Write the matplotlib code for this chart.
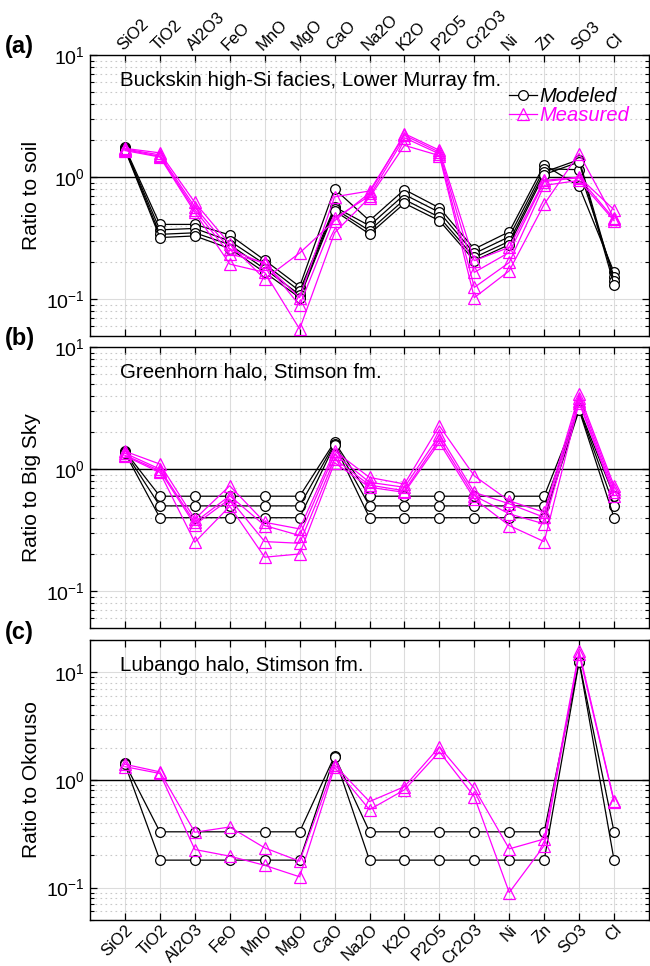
import matplotlib
matplotlib.use("Agg")
import matplotlib.pyplot as plt
import numpy as np
from matplotlib.ticker import LogLocator, NullFormatter

plt.rcParams['font.family'] = ['Liberation Sans', 'DejaVu Sans']
plt.rcParams['mathtext.fontset'] = 'custom'
plt.rcParams['mathtext.rm'] = 'Liberation Sans'
plt.rcParams['axes.unicode_minus'] = False

oxides = ['SiO2', 'TiO2', 'Al2O3', 'FeO', 'MnO', 'MgO', 'CaO', 'Na2O',
          'K2O', 'P2O5', 'Cr2O3', 'Ni', 'Zn', 'SO3', 'Cl']

# (a) Buckskin vs soil
mod_a = [
    [1.75, 0.41, 0.41, 0.336, 0.209, 0.127, 0.80, 0.44, 0.79, 0.56, 0.258, 0.357, 1.26, 0.84, 0.166],
    [1.72, 0.37, 0.38, 0.30, 0.194, 0.117, 0.57, 0.40, 0.72, 0.515, 0.237, 0.325, 1.17, 1.15, 0.153],
    [1.70, 0.34, 0.35, 0.28, 0.177, 0.109, 0.55, 0.365, 0.655, 0.47, 0.22, 0.298, 1.10, 1.39, 0.142],
    [1.68, 0.32, 0.33, 0.26, 0.166, 0.103, 0.53, 0.342, 0.61, 0.44, 0.207, 0.28, 1.05, 1.33, 0.131],
]
meas_a = [
    [1.72, 1.58, 0.62, 0.283, 0.146, 0.239, 0.44, 0.74, 2.27, 1.66, 0.207, 0.266, 0.94, 1.00, 0.54],
    [1.70, 1.52, 0.57, 0.258, 0.194, 0.103, 0.69, 0.77, 2.20, 1.60, 0.166, 0.242, 0.92, 0.99, 0.455],
    [1.68, 1.48, 0.54, 0.234, 0.20, 0.089, 0.46, 0.70, 2.10, 1.55, 0.125, 0.20, 0.855, 0.94, 0.44],
    [1.65, 1.46, 0.515, 0.194, 0.166, 0.057, 0.35, 0.68, 1.82, 1.50, 0.103, 0.171, 0.60, 1.56, 0.46],
]

# (b) Greenhorn vs Big Sky
mod_b = [
    [1.40, 0.60, 0.60, 0.60, 0.60, 0.60, 1.67, 0.60, 0.60, 0.60, 0.60, 0.60, 0.60, 3.15, 0.60],
    [1.38, 0.50, 0.50, 0.50, 0.50, 0.50, 1.62, 0.50, 0.50, 0.50, 0.50, 0.50, 0.50, 3.10, 0.50],
    [1.36, 0.40, 0.40, 0.40, 0.40, 0.40, 1.58, 0.40, 0.40, 0.40, 0.40, 0.40, 0.40, 3.05, 0.40],
]
meas_b = [
    [1.40, 1.10, 0.39, 0.73, 0.367, 0.324, 1.41, 0.855, 0.755, 2.26, 0.88, 0.55, 0.443, 4.10, 0.73],
    [1.35, 1.00, 0.367, 0.605, 0.345, 0.286, 1.33, 0.78, 0.71, 1.90, 0.645, 0.52, 0.403, 3.85, 0.687],
    [1.30, 0.97, 0.35, 0.57, 0.255, 0.247, 1.21, 0.74, 0.665, 1.76, 0.605, 0.43, 0.356, 3.60, 0.645],
    [1.28, 0.94, 0.252, 0.496, 0.19, 0.202, 1.13, 0.71, 0.645, 1.65, 0.57, 0.345, 0.255, 3.50, 0.605],
]

# (c) Lubango vs Okoruso
mod_c = [
    [1.43, 0.33, 0.33, 0.33, 0.33, 0.33, 1.67, 0.33, 0.33, 0.33, 0.33, 0.33, 0.33, 12.6, 0.33],
    [1.40, 0.18, 0.18, 0.18, 0.18, 0.18, 1.65, 0.18, 0.18, 0.18, 0.18, 0.18, 0.18, 12.6, 0.18],
]
meas_c = [
    [1.40, 1.19, 0.327, 0.366, 0.234, 0.176, 1.38, 0.63, 0.868, 2.03, 0.838, 0.229, 0.283, 15.8, 0.64],
    [1.33, 1.15, 0.226, 0.196, 0.161, 0.126, 1.31, 0.53, 0.81, 1.83, 0.70, 0.09, 0.246, 14.8, 0.63],
]

panels = [
    ('(a)', 'Ratio to soil', 'Buckskin high-Si facies, Lower Murray fm.', mod_a, meas_a, (0.05, 10)),
    ('(b)', 'Ratio to Big Sky', 'Greenhorn halo, Stimson fm.', mod_b, meas_b, (0.05, 10)),
    ('(c)', 'Ratio to Okoruso', 'Lubango halo, Stimson fm.', mod_c, meas_c, (0.05, 20)),
]

W, H = 650, 966
fig = plt.figure(figsize=(W / 100, H / 100), dpi=100)
# axes boxes in pixels: top, bottom
boxes = [(55, 336), (347, 628), (640, 920)]
left, right = 90, 649
magenta = '#ff00ff'
x = np.arange(len(oxides))

for i, (tag, ylab, title, mod, meas, ylim) in enumerate(panels):
    top, bot = boxes[i]
    ax = fig.add_axes([left / W, 1 - bot / H, (right - left) / W, (bot - top) / H])
    ax.set_yscale('log')
    ax.set_xlim(-1, 15)
    ax.set_ylim(*ylim)

    ax.set_axisbelow(True)
    ax.grid(True, which='major', axis='both', color='#dcdcdc', lw=0.8, ls='-')
    ax.grid(True, which='minor', axis='y', color='#c8c8c8', lw=0.8, ls=(0, (1.5, 3)))
    ax.axhline(1.0, color='black', lw=1.0, zorder=1.5)

    for row in mod:
        h1, = ax.plot(x, row, '-o', color='black', lw=0.9, ms=7,
                      mfc='white', mec='black', mew=0.9, zorder=3)
    for row in meas:
        h2, = ax.plot(x, row, '-^', color=magenta, lw=0.9, ms=8,
                      mfc='none', mec=magenta, mew=0.9, zorder=4)

    ax.set_xticks(x)
    ax.yaxis.set_major_locator(LogLocator(base=10, numticks=10))
    ax.yaxis.set_minor_locator(LogLocator(base=10, subs=np.arange(2, 10), numticks=20))
    ax.yaxis.set_minor_formatter(NullFormatter())
    ax.tick_params(which='both', direction='in', top=True, right=True,
                   bottom=True, left=True, labelsize=14)
    ax.tick_params(which='major', length=5, width=0.9)
    ax.tick_params(which='minor', length=3, width=0.8)
    ax.tick_params(axis='x', labelsize=12, pad=1.5)

    if i == 0:
        ax.tick_params(axis='x', labeltop=True, labelbottom=False)
        ax.set_xticklabels(oxides, rotation=45, ha='left', rotation_mode='anchor')
    elif i == 2:
        ax.set_xticklabels(oxides, rotation=45, ha='right', rotation_mode='anchor')
    else:
        ax.set_xticklabels([])

    for s in ax.spines.values():
        s.set_linewidth(1.0)

    ax.set_ylabel(ylab, fontsize=15, labelpad=4)
    ax.text(0.054, 0.91, title, transform=ax.transAxes, fontsize=14.8, va='center', ha='left')
    fig.text(5 / W, 1 - (top - 8) / H, tag, fontsize=17, fontweight='bold', va='center', ha='left')

    if i == 0:
        leg = ax.legend([h1, h2], ['Modeled', 'Measured'], loc='upper left',
                        bbox_to_anchor=(0.735, 0.915), frameon=False, fontsize=14.5,
                        handlelength=1.4, handletextpad=0.1, labelspacing=0.0,
                        borderaxespad=0)
        for t, c in zip(leg.get_texts(), ['black', magenta]):
            t.set_color(c)
            t.set_fontstyle('italic')

fig.savefig('out.png', dpi=100)
